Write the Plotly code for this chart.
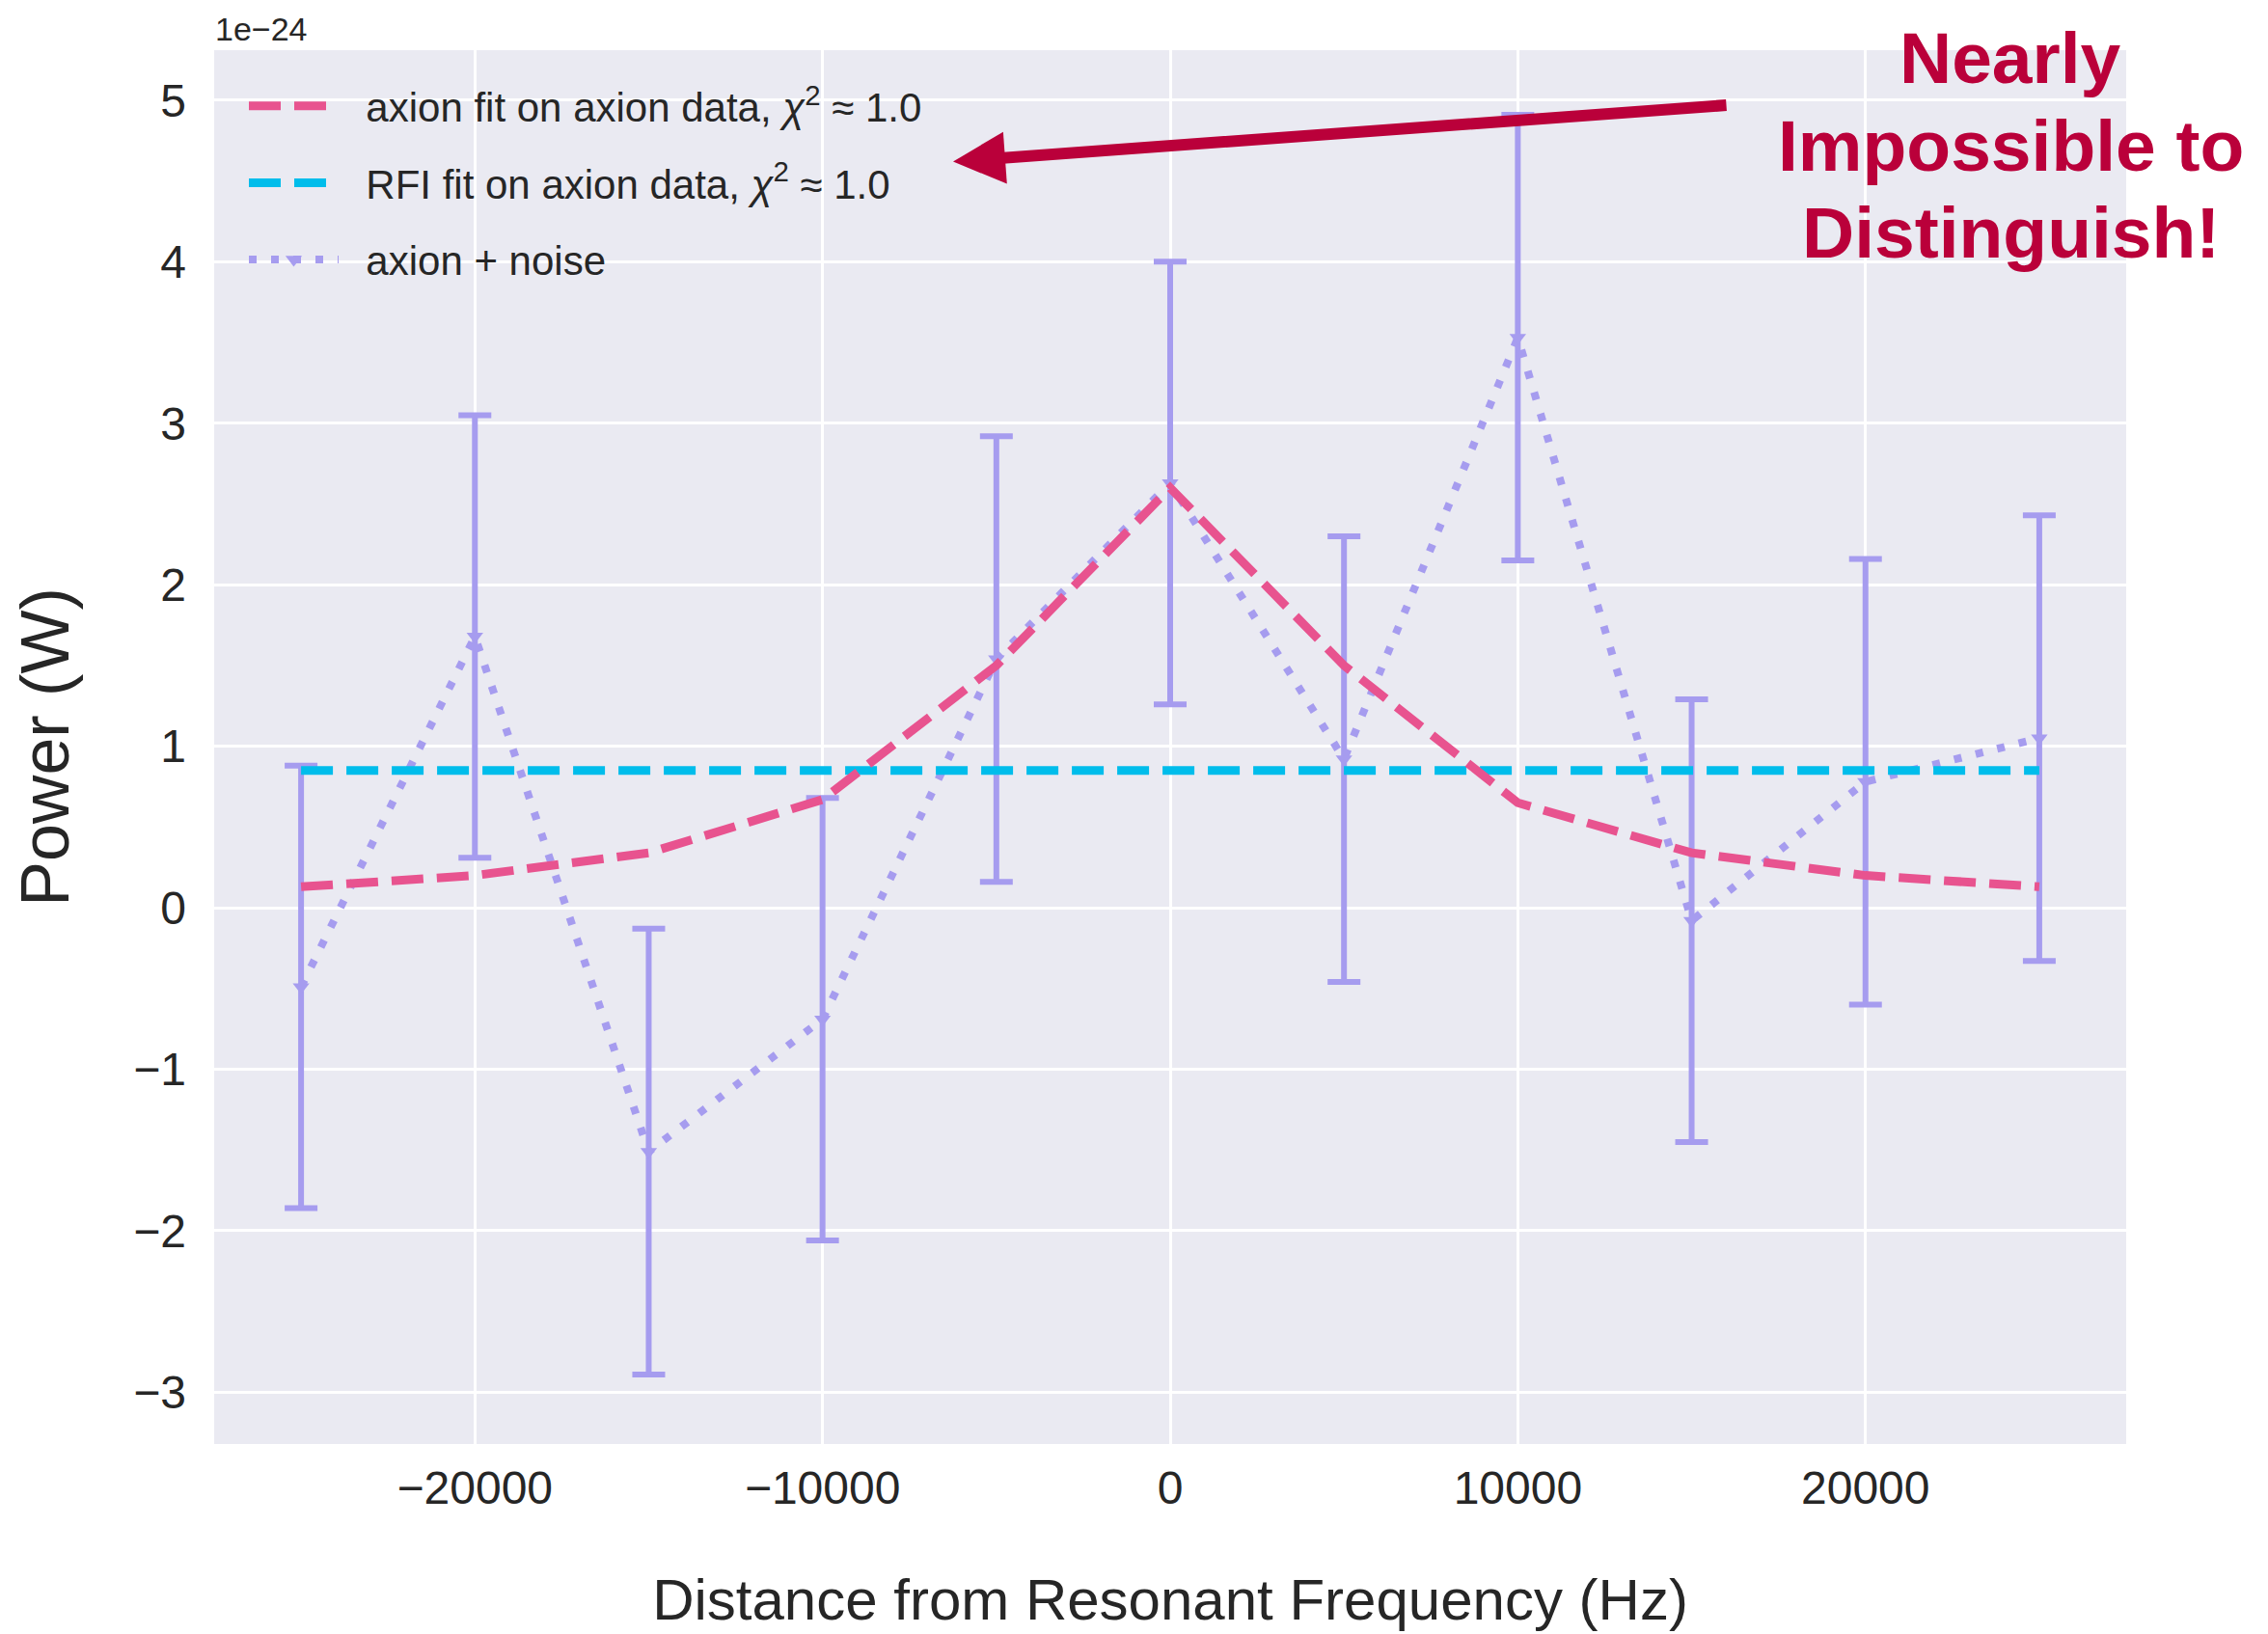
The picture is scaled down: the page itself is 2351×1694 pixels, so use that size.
import plotly.graph_objects as go

# ---------------- data ----------------
freq_hz = [-25000, -20000, -15000, -10000, -5000, 0, 5000, 10000, 15000, 20000, 25000]
axion_noise = [-0.49, 1.68, -1.51, -0.69, 1.54, 2.63, 0.92, 3.53, -0.08, 0.78, 1.05]
noise_err = [1.37, 1.37, 1.38, 1.37, 1.38, 1.37, 1.38, 1.38, 1.37, 1.38, 1.38]
axion_fit = [0.13, 0.20, 0.34, 0.67, 1.50, 2.60, 1.50, 0.65, 0.34, 0.20, 0.13]
rfi_fit = [0.85, 0.85, 0.85, 0.85, 0.85, 0.85, 0.85, 0.85, 0.85, 0.85, 0.85]

x_tickvals = [-20000, -10000, 0, 10000, 20000]
x_ticktext = ["\u221220000", "\u221210000", "0", "10000", "20000"]
y_tickvals = [-3, -2, -1, 0, 1, 2, 3, 4, 5]
y_ticktext = ["\u22123", "\u22122", "\u22121", "0", "1", "2", "3", "4", "5"]

PAD = "\u00a0\u00a0"
label_fit_axion = PAD + "axion fit on axion data, <i>\u03c7</i><sup>2</sup> \u2248 1.0"
label_fit_rfi = PAD + "RFI fit on axion data, <i>\u03c7</i><sup>2</sup> \u2248 1.0"
label_data = PAD + "axion + noise"
note_lines = ["Nearly", "Impossible to", "Distinguish!"]

# ---------------- style ----------------
PINK = "#e8538f"
CYAN = "#00bdeb"
PURPLE = "#a69cef"
RED = "#ba003a"
TXT = "#262626"
FONT = "Liberation Sans, Arial, Helvetica, sans-serif"

W, H = 2351, 1694
# reference plot-area box in screenshot pixels
PL, PT, PR, PB = 222, 52, 2204, 1497
OFF = 8  # page body margin
plot_w = PR - PL
plot_h = PB - PT


def px_to_paper(px, py):
    return (px - PL) / plot_w, (PB - py) / plot_h


fig = go.Figure()

fig.add_trace(go.Scatter(
    x=freq_hz, y=axion_noise, name=label_data, mode="lines+markers",
    line=dict(color=PURPLE, width=8, dash="8px,15px"),
    marker=dict(symbol="triangle-down", size=15, color=PURPLE),
    error_y=dict(type="data", array=noise_err, visible=True, color=PURPLE,
                 thickness=6, width=17),
    legendrank=3, legendgroup="c",
))
fig.add_trace(go.Scatter(
    x=freq_hz, y=rfi_fit, name=label_fit_rfi, mode="lines",
    line=dict(color=CYAN, width=9, dash="33px,14px"),
    legendrank=2, legendgroup="b",
))
fig.add_trace(go.Scatter(
    x=freq_hz, y=axion_fit, name=label_fit_axion, mode="lines",
    line=dict(color=PINK, width=9, dash="33px,14px"),
    legendrank=1, legendgroup="a",
))

annotations = []
# arrow
annotations.append(dict(
    x=-6244, y=4.62, xref="x", yref="y",
    ax=16040, ay=4.97, axref="x", ayref="y",
    text="", showarrow=True, arrowhead=2, arrowsize=0.9, arrowwidth=12,
    arrowcolor=RED, standoff=0,
))
# note text
cx, _ = px_to_paper(2084, 0)
for line, py in zip(note_lines, [60, 151, 241]):
    _, yy = px_to_paper(0, py)
    annotations.append(dict(
        x=cx, y=yy, xref="paper", yref="paper", xanchor="center", yanchor="middle",
        text="<b>" + line + "</b>", showarrow=False,
        font=dict(family=FONT, size=75, color=RED),
    ))
# offset text
_, oy = px_to_paper(0, 30)
annotations.append(dict(
    x=0, y=oy, xref="paper", yref="paper", xanchor="left", yanchor="middle",
    text="1e\u221224", showarrow=False, borderpad=0,
    font=dict(family=FONT, size=34, color=TXT),
))

lx, ly = px_to_paper(253, 76)
fig.update_layout(
    width=W, height=H,
    margin=dict(l=PL - OFF, r=W - PR + OFF, t=PT - OFF, b=H - PB + OFF, autoexpand=False),
    paper_bgcolor="white", plot_bgcolor="#eaeaf2",
    font=dict(family=FONT, color=TXT),
    showlegend=True,
    legend=dict(x=lx, y=ly, xanchor="left", yanchor="top",
                bgcolor="rgba(0,0,0,0)", font=dict(size=42, color=TXT),
                itemwidth=93, traceorder="grouped", tracegroupgap=22),
    annotations=annotations,
)
fig.update_xaxes(
    range=[-27500, 27500], tickvals=x_tickvals, ticktext=x_ticktext,
    showgrid=True, gridcolor="white", gridwidth=3, zeroline=False,
    showline=False, ticks="", tickfont=dict(size=48, color=TXT),
    ticklabelstandoff=13,
    title=dict(text="Distance from Resonant Frequency (Hz)", font=dict(size=60, color=TXT),
               standoff=68),
)
fig.update_yaxes(
    range=[-3.32, 5.31], tickvals=y_tickvals, ticktext=y_ticktext,
    showgrid=True, gridcolor="white", gridwidth=3, zeroline=False,
    showline=False, ticks="", tickfont=dict(size=48, color=TXT),
    ticklabelstandoff=28,
    title=dict(text="Power (W)", font=dict(size=70, color=TXT), standoff=50),
)

fig.write_html("out.html")
